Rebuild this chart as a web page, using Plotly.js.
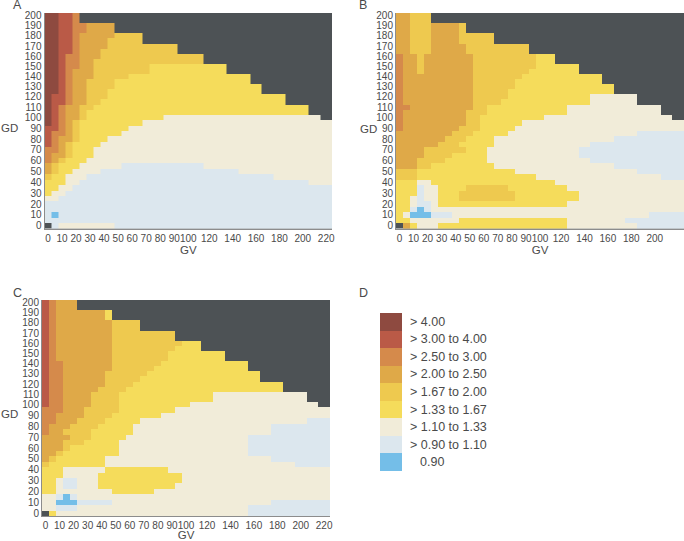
<!DOCTYPE html>
<html><head><meta charset="utf-8">
<script src="https://cdn.plot.ly/plotly-3.0.1.min.js"></script>
<style>html,body{margin:0;padding:0;background:#fff}</style></head>
<body><div id="chart" style="width:684px;height:541px"></div>
<script>
// GV / GD grid values
const gvCols = [0,5,10,15,20,25,30,35,40,45,50,55,60,65,70,75,80,85,90,95,100,110,120,130,140,150,160,170,180,190,200,210,220];
const gdRows = [0,5,10,15,20,25,30,35,40,45,50,55,60,65,70,75,80,85,90,95,100,105,110,115,120,125,130,135,140,145,150,155,160,165,170,175,180,185,190,195,200];
const gvTicks = [0,10,20,30,40,50,60,70,80,90,100,120,140,160,180,200,220];
const gdTicks = [0,10,20,30,40,50,60,70,80,90,100,110,120,130,140,150,160,170,180,190,200];
const legendLabels = ["0.90","> 0.90 to 1.10","> 1.10 to 1.33","> 1.33 to 1.67","> 1.67 to 2.00","> 2.00 to 2.50","> 2.50 to 3.00","> 3.00 to 4.00","> 4.00"];
const classColors = ["#74bee8","#dce7ee","#f1ecd9","#f5dc5b","#eec94f","#dfa948","#d58a4b","#ba5a47","#8e4a40"];
const noDataColor = "#4d5255";

// Risk-ratio class per cell, top row (GD 200) first; "cxN" = class c for N cells; last token fills the row; D = no data
const panelA = [
"8x2 7x2 6 D","8x2 7x2 6 D","8x2 7x2 6x2 5x4 D","8x2 7x2 6x2 5x4 D","8x2 7x2 6 5x5 4x4 D","8x2 7x2 6 5x4 4x5 D",
"8x2 7x2 6 5x4 4x10 D","8x2 7x2 6 5x3 4x11 D","8x2 7 6x2 5x3 4x14 D","8x2 7 6x2 5x2 4x15 D","8x2 7 6x2 5x2 4x8 3x9 D",
"8x2 7 6 5x3 4x8 3x9 D","8x2 7 6 5x3 4x5 3x14 D","8x2 7 6 5x2 4x4 3x16 D","8x2 7 6 5x2 4x4 3x17 D","8x2 7 6 5x2 4x3 3x18 D",
"8 7x2 6 5x2 4x3 3x20 D","8 7x2 6 5x2 4x2 3x21 D","8 7 6 5x2 4x2 3x24 D","8 7 6 5x2 4 3x25 D","8 7 6 5x2 4 3x11 2x15 D",
"8 7 6 5 4 3x9 2","7x2 6 5 4 3x7 2","7 6x2 5 4 3x6 2","7 6 5x2 4 3x4 2","7 6 5 4 3x4 2","6x2 5 4 3x3 2","6 5x2 4 3x3 2","6 5 4 3x3 2",
"5 4 3x3 2x6 1x11 2","5 4 3x2 2x4 1x17 2","4 3x2 2x3 1x22 2","3x3 2x2 1x26 2","3x2 2x2 1","3 2x2 1","2x2 1","1","1","1 0 1","1","D 1 2x8 1"];
const panelB = [
"5x2 4x3 D","5x2 4x3 D","5x2 4x3 5x4 4 D","5x2 4x3 5x4 4 D","5x2 4x3 5x4 4x5 D","5x2 4x3 5x4 4x5 D","5x2 4x3 5x5 4x9 D","5x2 4x3 5x5 4x9 D",
"6 5x2 4 5x7 4x9 3x2 D","6 5x2 4 5x7 4x9 3x2 D","6 5x2 4 5x7 4x9 3x4 D","6 5x2 4 5x7 4x8 3x5 D","6 5x10 4x7 3x8 D","6 5x10 4x6 3x9 D","6 5x10 4x6 3x10 D","6 5x10 4x5 3x11 D",
"6 5x10 4x5 3x9 2x4 D","6 5x10 4x4 3x10 2x4 D","6x2 5x9 4x2 3x10 2x8 D","6 5x9 4x3 3x10 2x8 D","6 5x9 4x2 3x9 2x11 D",
"6 5x9 4x2 3x6 2","6 5x8 4x3 3x5 2","5x8 4x3 3x5 2x13 1","5x7 4x3 3x4 2x13 1","5x6 4x3 3x5 2x11 1","5x4 4x6 3x3 2x11 1","5x4 4x4 3x5 2x11 1","5x3 4x4 3x6 2x12 1",
"5x3 4x2 3x9 2x13 1","4x3 3x14 2x12 1","4x3 3x17 2x11 1","3x3 2x2 3x17 2","3x3 1 2x2 3x4 4x6 3x7 2","3x3 1 2x2 3x3 4x8 3x7 2","3x2 2 1 2x2 3x3 4x8 3x7 2",
"3x2 2 1x2 2 3x17 2","3x2 1 0 1 2","3 2 0x3 1x3 2x22 1","3x2 2x7 3x14 2x5 1","D 5 3 2x3 3x17 2x6 1"];
const panelC = [
"7 6 5x3 D","7 6 5x3 D","7 6 5x7 3 D","7 6 5x7 3 D","7 6 5x8 4x4 D","7 6 5x8 4x4 D","7 6 5x8 4x9 D","7 6 5x8 4x9 D","7 6 5x8 4x10 3x2 D","7 6 5x8 4x9 3x3 D",
"7 6 5x8 4x8 3x6 D","7 6 5x8 4x8 3x6 D","7 6x2 5x7 4x7 3x9 D","7 6x2 5x7 4x6 3x10 D","7 6x2 5x6 4x6 3x12 D","7 6x2 5x6 4x5 3x13 D","7 6x2 5x6 4x4 3x16 D","7 6x2 5x5 4x4 3x17 D",
"7 6x2 5x4 4x4 3x12 2x8 D","7 6x2 5x4 4x4 3x12 2x8 D","7 6x2 5x4 4x4 3x10 2x11 D",
"6x3 5x3 4x5 3x8 2","6x2 5x4 4x4 3x7 2","6x2 5x3 4x4 3x5 2x17 1","6 5x3 4x4 3x5 2x15 1","6 5x2 4x4 3x6 2x15 1","5x4 4x3 3x5 2x14 1","5x3 4x3 3x5 2x15 1","5x3 4 3x7 2x15 1","5x2 4 3x8 2x15 1",
"5 4 3x7 2x19 1","4 3x8 2x21 1","3x3 2x6 3x9 2","3x3 2x5 3x12 2","3x2 2 1x2 2x3 3x12 2","3x2 2 1x2 2x3 3x11 2","3x2 2x8 3x6 2","2x2 1 0 1 2","2x2 0x3 1x5 2x18 1","2x2 1x3 2x21 1","D 3 2x24 1"];

// panel rectangles in page pixels
const W = 684, H = 541;
const frames = {A:{l:44.5,r:332,t:13,b:228.5}, B:{l:396,r:684,t:13,b:228.5}, C:{l:42,r:330,t:300,b:516}, D:{l:380,r:402,t:313,b:471}};

const fine = 1, coarseX = 5/3, coarseY = 15.2/16.2;
function xEdge(i){ return i<=21 ? i*fine : 21 + (i-21)*coarseX; }
function yEdge(i){ return i<=21 ? i*fine : 21 + (i-21)*coarseY; }
const xEdges = Array.from({length:gvCols.length+1},(_,i)=>xEdge(i));
const yEdges = Array.from({length:gdRows.length+1},(_,i)=>yEdge(i));
function parseRow(s){
  const toks = s.split(" "), out = [];
  toks.forEach((t,k)=>{
    const [c,n] = t.split("x");
    const cnt = k===toks.length-1 ? gvCols.length-out.length : (n?+n:1);
    for(let i=0;i<cnt;i++) out.push(c==="D"?null:+c);
  });
  return out;
}
const classScale = [];
classColors.forEach((c,i)=>{ classScale.push([i/9,c]); classScale.push([(i+1)/9,c]); });

const data = [], layout = {
  width:W, height:H, margin:{l:0,r:0,t:0,b:0}, paper_bgcolor:"#fff", plot_bgcolor:noDataColor,
  font:{family:"Liberation Sans, Arial, sans-serif",color:"#4a4a4a",size:10},
  showlegend:false, annotations:[]
};
function ann(x,y,text,size,anchor){ layout.annotations.push({xref:"paper",yref:"paper",x:x/W,y:1-y/H,text,showarrow:false,xanchor:anchor||"center",yanchor:"middle",font:{size:size,color:"#4a4a4a"}}); }

[["A",panelA],["B",panelB],["C",panelC]].forEach(([key,rows],idx)=>{
  const f = frames[key], n = idx+1, sfx = n===1?"":String(n);
  const z = rows.map(parseRow).reverse();
  data.push({type:"heatmap",x:xEdges,y:yEdges,z,zmin:0,zmax:9,colorscale:classScale,showscale:false,xaxis:"x"+sfx,yaxis:"y"+sfx,hoverongaps:false});
  layout["xaxis"+sfx] = {domain:[f.l/W,f.r/W],anchor:"y"+sfx,range:[0,xEdges[xEdges.length-1]],
    tickmode:"array",tickvals:gvTicks.map(v=>{const i=gvCols.indexOf(v);return (xEdges[i]+xEdges[i+1])/2;}),ticktext:gvTicks.map(String),
    ticks:"",showgrid:false,zeroline:false,showline:true,linecolor:"#8c8c8c",linewidth:1,tickangle:0,tickfont:{size:10},
    title:{text:"GV",font:{size:11.5},standoff:3}};
  layout["yaxis"+sfx] = {domain:[1-f.b/H,1-f.t/H],anchor:"x"+sfx,range:[0,yEdges[yEdges.length-1]],
    tickmode:"array",tickvals:gdTicks.map(v=>{const i=gdRows.indexOf(v);return (yEdges[i]+yEdges[i+1])/2;}),ticktext:gdTicks.map(String),
    ticks:"",ticklen:0,showgrid:false,zeroline:false,showline:true,linecolor:"#8c8c8c",linewidth:1,tickfont:{size:10}};
});

// legend key
const fd = frames.D;
data.push({type:"heatmap",x:[0],y:legendLabels.map((_,i)=>i),z:legendLabels.map((_,i)=>[i]),zmin:-0.5,zmax:8.5,
  colorscale:classColors.flatMap((c,i)=>[[i/9,c],[(i+1)/9,c]]),showscale:false,xaxis:"x4",yaxis:"y4",hoverinfo:"skip"});
layout.xaxis4 = {domain:[fd.l/W,fd.r/W],anchor:"y4",visible:false,range:[-0.5,0.5]};
layout.yaxis4 = {domain:[1-fd.b/H,1-fd.t/H],anchor:"x4",visible:false,range:[-0.5,8.5]};
legendLabels.forEach((t,i)=>{
  const y = fd.b-(i+0.5)*(fd.b-fd.t)/legendLabels.length;
  ann(t.charAt(0)===">"?408:418, y, t.replace(/>/,"&gt;"), 12.5, "left");
});

// panel letters and horizontal GD titles
ann(17,5,"A",12.5); ann(363,5,"B",12.5); ann(17,293,"C",12.5); ann(363,293,"D",12.5);
ann(9,128,"GD",11.5); ann(368,129,"GD",11.5); ann(9,414,"GD",11.5);

Plotly.newPlot("chart",data,layout,{displayModeBar:false,staticPlot:true});
</script></body></html>
